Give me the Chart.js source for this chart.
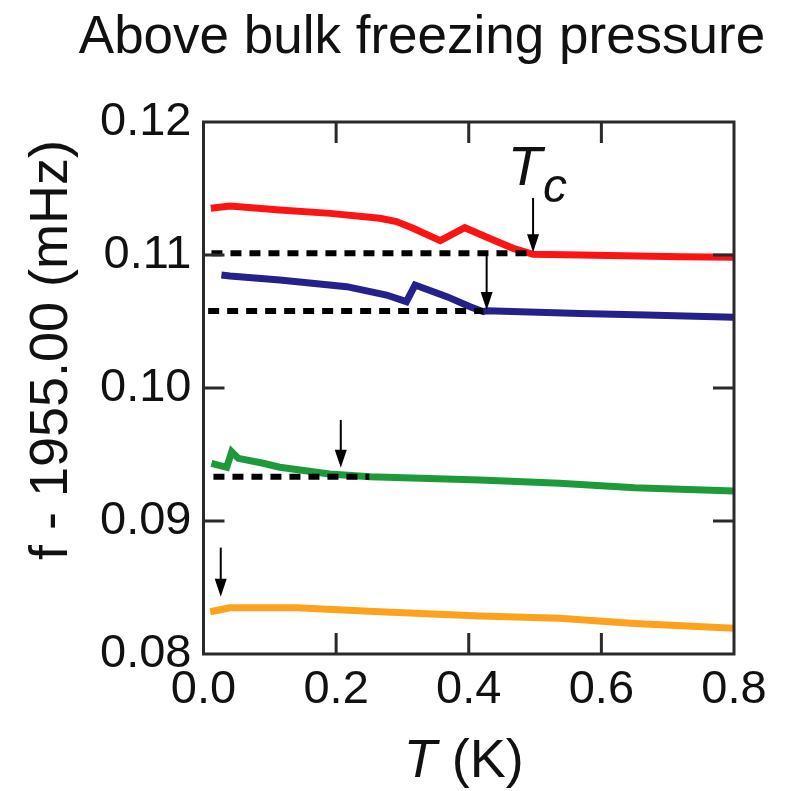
<!DOCTYPE html>
<html>
<head>
<meta charset="utf-8">
<script src="https://cdn.jsdelivr.net/npm/chart.js@4.4.1/dist/chart.umd.min.js"></script>
<style>
  body { margin: 0; background: #fff; }
  #wrap { width: 785px; height: 791px; }
</style>
</head>
<body>
<div id="wrap"><canvas id="chart"></canvas></div>
<script>
// Frequency shift f - 1955.00 (mHz) vs temperature T (K), one trace per pressure
const redT = [0.011, 0.04, 0.115, 0.191, 0.266, 0.291, 0.316, 0.357, 0.394, 0.437, 0.467, 0.497, 0.568, 0.719, 0.8];
const redF = [0.11351, 0.11368, 0.11338, 0.11313, 0.11276, 0.11251, 0.11201, 0.11108, 0.11205, 0.11113, 0.1105, 0.11005, 0.11, 0.10987, 0.10983];

const blueT = [0.027, 0.04, 0.115, 0.216, 0.276, 0.306, 0.319, 0.367, 0.402, 0.422, 0.427, 0.568, 0.668, 0.8];
const blueF = [0.1085, 0.10842, 0.10812, 0.10762, 0.10699, 0.10649, 0.10774, 0.10687, 0.10611, 0.10574, 0.10581, 0.10561, 0.10549, 0.10532];

const greenT = [0.012, 0.035, 0.0425, 0.0525, 0.09, 0.115, 0.19, 0.251, 0.417, 0.537, 0.65, 0.8];
const greenF = [0.09434, 0.09404, 0.09521, 0.09471, 0.09434, 0.09404, 0.09353, 0.09333, 0.09308, 0.09283, 0.0925, 0.09226];

const orangeT = [0.01, 0.04, 0.14, 0.266, 0.417, 0.537, 0.65, 0.8];
const orangeF = [0.08318, 0.08348, 0.08348, 0.08318, 0.08286, 0.08269, 0.0823, 0.08193];

// Normal-state baselines (dotted) for the three upper traces
const baseT = [[0.012, 0.497], [0.007, 0.422], [0.015, 0.25]];
const baseF = [0.11013, 0.10579, 0.09333];

// Arrows marking Tc on each trace
const arrowT = [0.497, 0.427, 0.207, 0.026];
const arrowTop = [0.11429, 0.11025, 0.0976, 0.088];
const arrowTip = [0.1102, 0.10587, 0.094, 0.0843];

const xTicks = [0, 0.2, 0.4, 0.6, 0.8];
const yTicks = [0.08, 0.09, 0.10, 0.11, 0.12];

const FONT = '"Liberation Sans", Arial, sans-serif';
const INK = '#111';

const toPoints = (xs, ys) => xs.map((x, i) => ({ x, y: ys[i] }));

const trace = (xs, ys, color) => ({
  data: toPoints(xs, ys),
  borderColor: color,
  borderWidth: 7,
  pointRadius: 0,
  tension: 0,
  order: 2,
});

const baseline = (i) => ({
  data: baseT[i].map((x) => ({ x, y: baseF[i] })),
  borderColor: '#000',
  borderWidth: 6,
  borderDash: [11, 8],
  borderCapStyle: 'butt',
  pointRadius: 0,
  order: 1,
});

// Frame, inward ticks, arrows and labels drawn on top of the data
const decorations = {
  id: 'decorations',
  afterDatasetsDraw(chart) {
    const { ctx, chartArea: a, scales: { x, y } } = chart;
    ctx.save();

    // inward tick marks on all four sides
    ctx.strokeStyle = '#2a2a2a';
    ctx.lineWidth = 3;
    const len = 21;
    xTicks.slice(1, -1).forEach((v) => {
      const px = x.getPixelForValue(v);
      ctx.beginPath();
      ctx.moveTo(px, a.bottom); ctx.lineTo(px, a.bottom - len);
      ctx.moveTo(px, a.top); ctx.lineTo(px, a.top + len);
      ctx.stroke();
    });
    yTicks.slice(1, -1).forEach((v) => {
      const py = y.getPixelForValue(v);
      ctx.beginPath();
      ctx.moveTo(a.left, py); ctx.lineTo(a.left + len, py);
      ctx.moveTo(a.right, py); ctx.lineTo(a.right - len, py);
      ctx.stroke();
    });
    ctx.strokeRect(a.left, a.top, a.right - a.left, a.bottom - a.top);

    // Tc arrows
    ctx.strokeStyle = '#000';
    ctx.fillStyle = '#000';
    ctx.lineWidth = 2;
    arrowT.forEach((t, i) => {
      const px = x.getPixelForValue(t);
      const top = y.getPixelForValue(arrowTop[i]);
      const tip = y.getPixelForValue(arrowTip[i]);
      ctx.beginPath();
      ctx.moveTo(px, top); ctx.lineTo(px, tip - 14);
      ctx.stroke();
      ctx.beginPath();
      ctx.moveTo(px - 6, tip - 18);
      ctx.lineTo(px + 6, tip - 18);
      ctx.lineTo(px, tip);
      ctx.closePath();
      ctx.fill();
    });

    // Tc label
    ctx.fillStyle = INK;
    ctx.textBaseline = 'alphabetic';
    ctx.textAlign = 'left';
    ctx.font = `italic 56px ${FONT}`;
    ctx.fillText('T', x.getPixelForValue(0.459), y.getPixelForValue(0.11526));
    ctx.font = `italic 48px ${FONT}`;
    ctx.fillText('c', x.getPixelForValue(0.512), y.getPixelForValue(0.1140));

    // title
    ctx.textAlign = 'center';
    ctx.font = `53px ${FONT}`;
    ctx.fillText('Above bulk freezing pressure', 422, 53);

    // x axis title: italic T followed by (K)
    ctx.textAlign = 'left';
    ctx.font = `italic 54px ${FONT}`;
    const wT = ctx.measureText('T').width;
    ctx.font = `54px ${FONT}`;
    const wK = ctx.measureText(' (K)').width;
    const x0 = (a.left + a.right) / 2 - (wT + wK) / 2 - 5;
    ctx.font = `italic 54px ${FONT}`;
    ctx.fillText('T', x0, 777);
    ctx.font = `54px ${FONT}`;
    ctx.fillText(' (K)', x0 + wT, 777);

    // y axis title
    ctx.translate(52, 350);
    ctx.rotate(-Math.PI / 2);
    ctx.textAlign = 'center';
    ctx.textBaseline = 'middle';
    ctx.fillText('f - 1955.00 (mHz)', 0, 0);

    ctx.restore();
  },
};

new Chart(document.getElementById('chart'), {
  type: 'line',
  data: {
    datasets: [
      baseline(0),
      baseline(1),
      baseline(2),
      trace(redT, redF, '#fb1414'),
      trace(blueT, blueF, '#24218d'),
      trace(greenT, greenF, '#1e9a3a'),
      trace(orangeT, orangeF, '#fda21c'),
    ],
  },
  options: {
    responsive: true,
    maintainAspectRatio: false,
    animation: false,
    layout: { padding: { top: 122, right: 51, left: 0, bottom: 0 } },
    plugins: {
      legend: { display: false },
      tooltip: { enabled: false },
    },
    scales: {
      x: {
        type: 'linear',
        min: 0,
        max: 0.8,
        afterFit: (scale) => { scale.height = 137; },
        afterBuildTicks: (scale) => { scale.ticks = xTicks.map((value) => ({ value })); },
        ticks: {
          color: INK,
          font: { family: FONT, size: 47 },
          padding: 8,
          maxRotation: 0,
          callback: (value) => value.toFixed(1),
        },
        grid: { display: false, drawTicks: false },
        border: { display: false },
      },
      y: {
        min: 0.08,
        max: 0.12,
        afterFit: (scale) => { scale.width = 203.5; },
        afterBuildTicks: (scale) => { scale.ticks = yTicks.map((value) => ({ value })); },
        ticks: {
          color: INK,
          font: { family: FONT, size: 47 },
          padding: 12,
          callback: (value) => value.toFixed(2),
        },
        grid: { display: false, drawTicks: false },
        border: { display: false },
      },
    },
  },
  plugins: [decorations],
});
</script>
</body>
</html>
